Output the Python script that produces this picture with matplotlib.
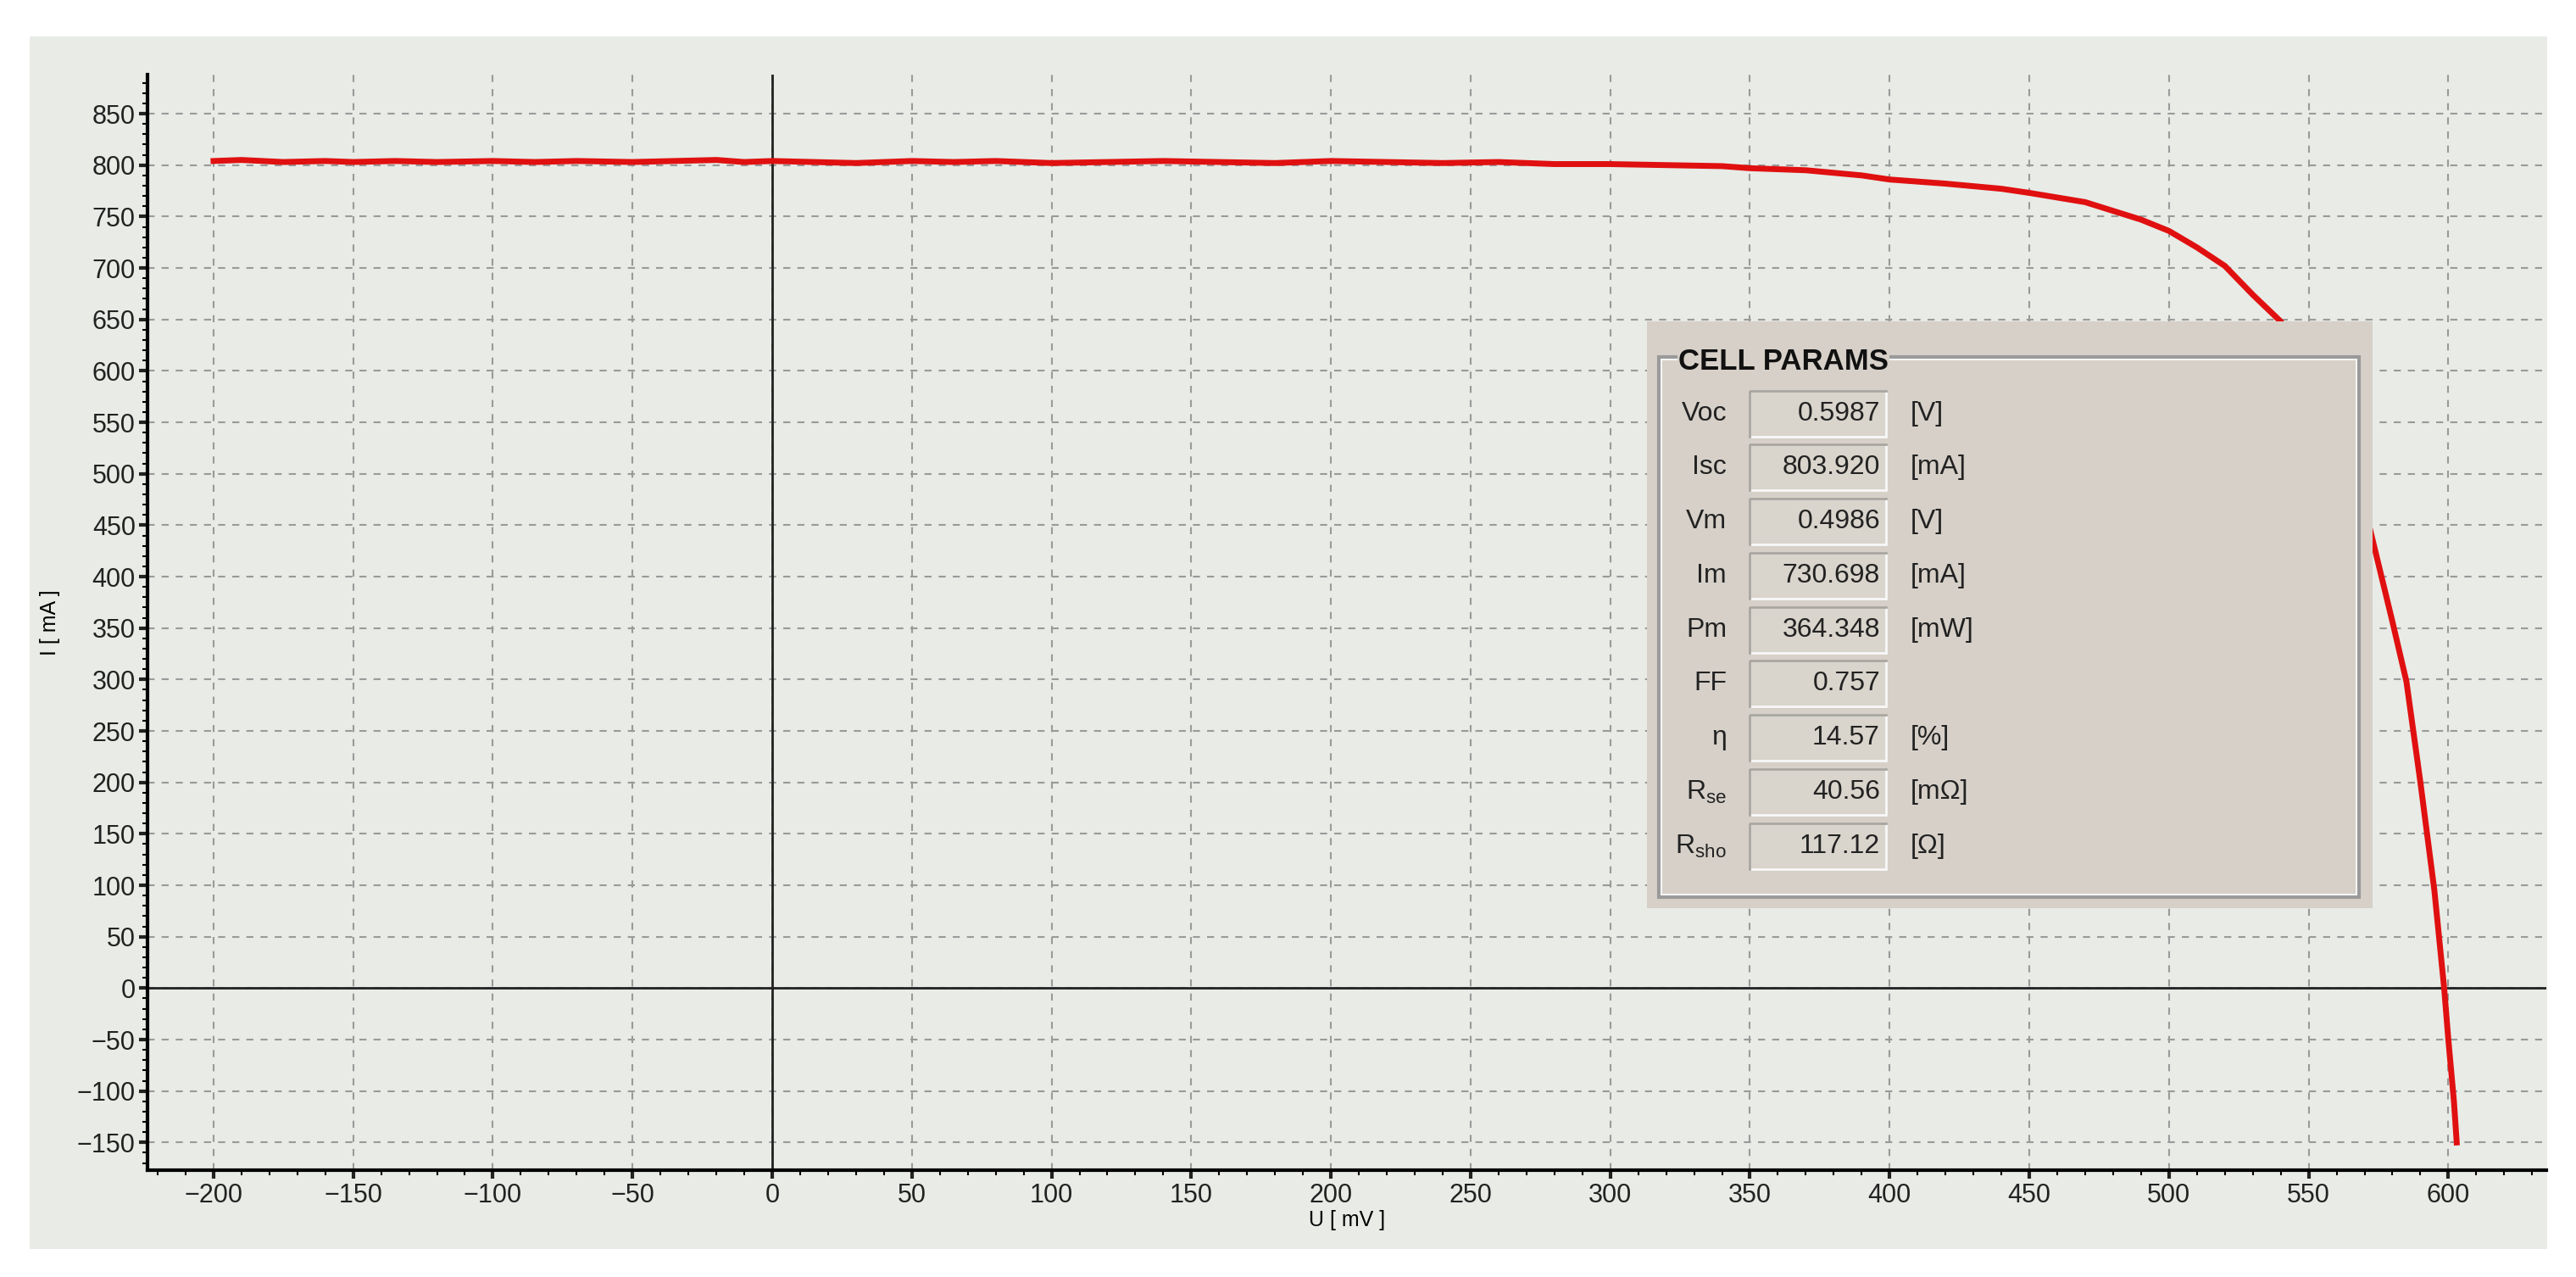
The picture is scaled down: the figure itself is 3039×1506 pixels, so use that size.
import matplotlib
matplotlib.use("Agg")
import matplotlib.pyplot as plt
from matplotlib.patches import Rectangle
from matplotlib.ticker import MultipleLocator

plt.rcParams['font.family'] = ['Liberation Sans', 'DejaVu Sans']

# I-V curve data (voltage mV, current mA)
voltage = [-200, -190, -175, -160, -150, -135, -120, -100, -85, -70, -50, -35, -20, -10, 0,
           15, 30, 50, 65, 80, 100, 120, 140, 160, 180, 200, 220, 240, 260, 280, 300,
           320, 340, 350, 370, 390, 400, 420, 440, 450, 470, 490, 500, 510, 520, 525,
           530, 540, 550, 560, 570, 575, 580, 585, 590, 595, 598.5, 600, 602, 603]
current = [804, 805, 803, 804, 803, 804, 803, 804, 803, 804, 803, 804, 805, 803, 804,
           803, 802, 804, 803, 804, 802, 803, 804, 803, 802, 804, 803, 802, 803, 801, 801,
           800, 799, 797, 795, 790, 786, 782, 777, 773, 764, 747, 736, 720, 702, 688,
           674, 648, 605, 540, 468, 412, 356, 298, 200, 95, 0, -50, -110, -150]

x_ticks = list(range(-200, 601, 50))
y_ticks = list(range(-150, 851, 50))

param_names = ["Voc", "Isc", "Vm", "Im", "Pm", "FF", "η", "R$_{\\mathregular{se}}$", "R$_{\\mathregular{sho}}$"]
param_values = ["0.5987", "803.920", "0.4986", "730.698", "364.348", "0.757", "14.57", "40.56", "117.12"]
param_units = ["[V]", "[mA]", "[V]", "[mA]", "[mW]", "", "[%]", "[mΩ]", "[Ω]"]

W, H = 3039, 1506
fig = plt.figure(figsize=(W / 100, H / 100), dpi=100)
fig.patch.set_facecolor('white')

bg = fig.add_axes([0, 0, 1, 1])
bg.set_xlim(0, W); bg.set_ylim(H, 0); bg.axis('off')
bg.add_patch(Rectangle((35, 43), 2970, 1430, facecolor='#e8ebe6', edgecolor='none'))

ax = fig.add_axes([0.0574, 0.0836, 0.931, 0.858])
ax.set_facecolor('#e8ebe6')
ax.set_xlim(-223.5, 635)
ax.set_ylim(-177, 888)
ax.set_xticks(x_ticks)
ax.set_yticks(y_ticks)
ax.xaxis.set_minor_locator(MultipleLocator(10))
ax.yaxis.set_minor_locator(MultipleLocator(10))
ax.grid(True, which='major', color='#9a9a9a', linestyle=(0, (4, 4)), linewidth=1.5)
for s in ['top', 'right']:
    ax.spines[s].set_visible(False)
for s in ['left', 'bottom']:
    ax.spines[s].set_linewidth(3)
ax.tick_params(which='major', length=7, width=3, labelsize=22, colors='#222222')
ax.tick_params(which='minor', length=4, width=1.5)
ax.axhline(0, color='#222222', lw=2)
ax.axvline(0, color='#222222', lw=2)
ax.plot(voltage, current, color='#e01010', lw=5, solid_joinstyle='round', zorder=3)
ax.set_ylabel("I [ mA ]", fontsize=18, labelpad=14)
ax.set_xlabel("U [ mV ]", fontsize=18, labelpad=2)

ov = fig.add_axes([0, 0, 1, 1])
ov.set_xlim(0, W); ov.set_ylim(H, 0); ov.axis('off')
ov.add_patch(Rectangle((1943, 379), 856, 692, facecolor='#d6d0c8', edgecolor='none', zorder=5))
ov.add_patch(Rectangle((1957, 421), 826, 637, facecolor='none', edgecolor='#9a9a9a', lw=3, zorder=6))
ov.add_patch(Rectangle((1960, 424), 820, 631, facecolor='none', edgecolor='#f4f4f4', lw=1.5, zorder=6))
ov.text(1980, 426, "CELL PARAMS", fontsize=25, fontweight='bold', va='center', ha='left',
        color='#111111', zorder=8, bbox=dict(facecolor='#d6d0c8', edgecolor='none', pad=1))
row_y = [488, 551, 615, 679, 743, 806, 870, 934, 998]
for yy, nm, val, un in zip(row_y, param_names, param_values, param_units):
    ov.text(2037, yy, nm, fontsize=23, ha='right', va='center', color='#222222', zorder=8)
    ov.add_patch(Rectangle((2064, yy - 27), 161, 54, facecolor='#d9d4cc', edgecolor='#f8f8f8', lw=2, zorder=7))
    ov.plot([2064, 2064, 2225], [yy + 27, yy - 27, yy - 27], color='#a8a49e', lw=2, zorder=7)
    ov.text(2218, yy, val, fontsize=23, ha='right', va='center', color='#222222', zorder=8)
    if un:
        ov.text(2254, yy, un, fontsize=23, ha='left', va='center', color='#222222', zorder=8)

fig.savefig("out.png", dpi=100)
